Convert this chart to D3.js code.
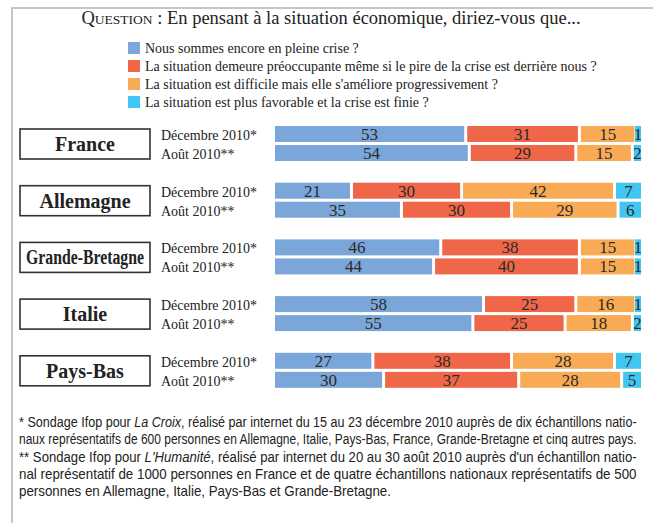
<!DOCTYPE html>
<html>
<head>
<meta charset="utf-8">
<script src="https://cdn.jsdelivr.net/npm/d3@7"></script>
<style>
  body { margin: 0; background: #fff; }
  svg { display: block; }
</style>
</head>
<body>
<svg width="653" height="523"></svg>
<script>
// données (en %)
var pays = ["France", "Allemagne", "Grande-Bretagne", "Italie", "Pays-Bas"];
var vagues = ["Décembre 2010*", "Août 2010**"];
var reponses = [
  "Nous sommes encore en pleine crise ?",
  "La situation demeure préoccupante même si le pire de la crise est derrière nous ?",
  "La situation est difficile mais elle s'améliore progressivement ?",
  "La situation est plus favorable et la crise est finie ?"
];
var couleurs = ["#7ba6d9", "#f06648", "#f8aa55", "#40c6f0"];

var decembre = [
  [53, 31, 15, 1],
  [21, 30, 42, 7],
  [46, 38, 15, 1],
  [58, 25, 16, 1],
  [27, 38, 28, 7]
];
var aout = [
  [54, 29, 15, 2],
  [35, 30, 29, 6],
  [44, 40, 15, 1],
  [55, 25, 18, 2],
  [30, 37, 28, 5]
];

var notes = [
  [["* Sondage Ifop pour ", false], ["La Croix", true], [", réalisé par internet  du 15 au 23 décembre 2010 auprès de dix échantillons natio-", false]],
  [["naux représentatifs de 600 personnes en Allemagne, Italie, Pays-Bas, France, Grande-Bretagne et cinq autres pays.", false]],
  [["** Sondage Ifop pour ", false], ["L'Humanité", true], [", réalisé par internet du 20 au 30 août 2010 auprès d'un échantillon natio-", false]],
  [["nal représentatif de 1000 personnes en France et de quatre échantillons nationaux représentatifs de 500", false]],
  [["personnes en Allemagne, Italie, Pays-Bas et Grande-Bretagne.", false]]
];

var serif = "'Liberation Serif', 'DejaVu Serif', serif";
var sans = "'Liberation Sans Narrow', 'Liberation Sans', 'Open Sans', sans-serif";

var svg = d3.select("svg");

// cadre gris
svg.append("path")
  .attr("d", "M12,523 V8 H653")
  .attr("fill", "none")
  .attr("stroke", "#b4b4b4")
  .attr("stroke-width", 1.5);

// titre
var titre = svg.append("text")
  .attr("x", 331).attr("y", 24)
  .attr("text-anchor", "middle")
  .attr("font-family", serif)
  .attr("font-size", 18.5)
  .attr("fill", "#222");
titre.append("tspan").text("Q");
titre.append("tspan").attr("font-size", 13.5).text("UESTION");
titre.append("tspan").text(" : En pensant à la situation économique, diriez-vous que...");

// légende
var leg = svg.append("g").selectAll("g")
  .data(reponses)
  .enter().append("g")
  .attr("transform", function(d, i) { return "translate(128," + (42 + i * 18) + ")"; });
leg.append("rect")
  .attr("width", 12).attr("height", 12)
  .attr("fill", function(d, i) { return couleurs[i]; });
leg.append("text")
  .attr("x", 17).attr("y", 11)
  .attr("font-family", serif)
  .attr("font-size", 14)
  .attr("fill", "#222")
  .text(function(d) { return d; });

// barres
var gap = 3;
var x = d3.scaleLinear().domain([0, 100]).range([275, 632]);
var yGroupe = d3.scaleBand().domain(pays).range([126, 409.5]).paddingInner(0);
var bh = 16;

function segments(vals) {
  var cum = 0;
  return vals.map(function(v, k) {
    var s = { v: v, k: k, x0: x(cum) + k * gap, x1: x(cum + v) + k * gap };
    cum += v;
    if (k == vals.length - 1 && s.x1 - s.x0 < 6) s.x0 = s.x1 - 6;
    return s;
  });
}

pays.forEach(function(p, i) {
  var g = svg.append("g").attr("transform", "translate(0," + yGroupe(p) + ")");

  g.append("rect")
    .attr("x", 20).attr("y", 3)
    .attr("width", 130).attr("height", 30)
    .attr("fill", "#fff")
    .attr("stroke", "#333")
    .attr("stroke-width", 1.6);
  var nom = g.append("text")
    .attr("text-anchor", "middle")
    .attr("font-family", serif)
    .attr("font-weight", "bold")
    .attr("font-size", 20)
    .attr("fill", "#222")
    .text(p);
  var lg = nom.node().getComputedTextLength();
  var sx = lg > 118 ? 118 / lg : 1;
  nom.attr("transform", "translate(85,25) scale(" + sx + ",1)");

  [decembre[i], aout[i]].forEach(function(vals, j) {
    var yy = j * 19;
    g.append("text")
      .attr("x", 161).attr("y", yy + 14)
      .attr("font-family", serif)
      .attr("font-size", 14)
      .attr("fill", "#222")
      .text(vagues[j]);

    var seg = g.append("g").selectAll("g")
      .data(segments(vals))
      .enter().append("g");
    seg.append("rect")
      .attr("x", function(d) { return d.x0; })
      .attr("y", yy)
      .attr("width", function(d) { return d.x1 - d.x0; })
      .attr("height", bh)
      .attr("fill", function(d) { return couleurs[d.k]; });
    seg.append("text")
      .attr("x", function(d) { return (d.x0 + d.x1) / 2; })
      .attr("y", yy + 14)
      .attr("text-anchor", "middle")
      .attr("font-family", serif)
      .attr("font-size", 17)
      .attr("fill", "#2a2a2a")
      .text(function(d) { return d.v; });
  });
});

// notes (justifiées sauf la dernière ligne)
var largeur = 618;
notes.forEach(function(parts, i) {
  var t = svg.append("text")
    .attr("font-family", sans)
    .attr("font-size", 14.5)
    .attr("fill", "#222");
  parts.forEach(function(p) {
    t.append("tspan").attr("font-style", p[1] ? "italic" : null).text(p[0]);
  });
  var l = t.node().getComputedTextLength();
  var s = 0.92;
  if (l * s > largeur) {
    s = largeur / l;
  } else if (i < notes.length - 1) {
    var n = parts.map(function(p) { return p[0]; }).join("").split(" ").length - 1;
    t.attr("word-spacing", (largeur / s - l) / n);
  }
  t.attr("transform", "translate(19," + (427 + i * 17.3) + ") scale(" + s + ",1)");
});
</script>
</body>
</html>
